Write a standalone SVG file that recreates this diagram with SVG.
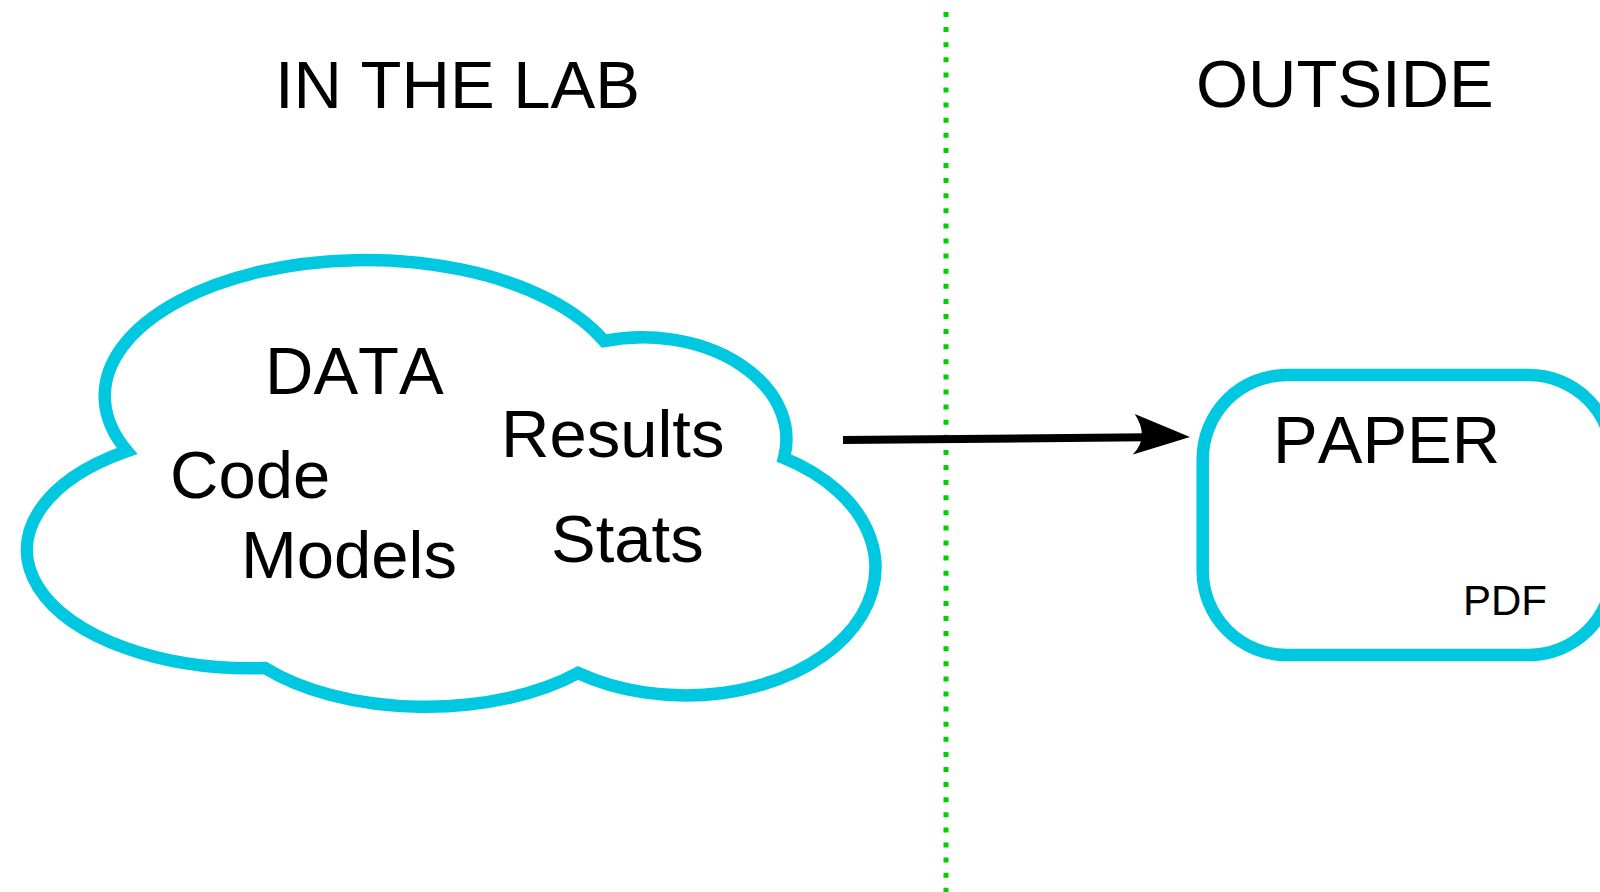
<svg xmlns="http://www.w3.org/2000/svg" width="1600" height="892" viewBox="0 0 1600 892">
  <style>
    .label { font-family: "Liberation Sans", Arial, Helvetica, sans-serif; fill: #000; font-kerning: none; }
    .big { font-size: 67px; }
    .small { font-size: 42px; }
    .shape { fill: #fff; stroke: #00c8e0; stroke-width: 12.5; stroke-linejoin: miter; stroke-miterlimit: 20; }
    .divider { stroke: #00d000; stroke-width: 5; stroke-dasharray: 5 10.1; fill: none; }
    .link { stroke: #000; stroke-width: 8; fill: none; }
  </style>
  <defs>
    <!-- concave-backed arrowhead; the line ends just inside its notch -->
    <marker id="head" markerUnits="userSpaceOnUse" viewBox="0 0 60 44" refX="13" refY="23.4" markerWidth="60" markerHeight="44" orient="auto">
      <path d="M57,23.4 L2,0 Q17,23.7 -0.7,40.7 Z" fill="#000"/>
    </marker>
  </defs>

  <rect width="1600" height="892" fill="#fff"/>

  <!-- section divider -->
  <g id="divider">
    <line class="divider" x1="946" y1="12" x2="946" y2="892"/>
  </g>

  <!-- section headings -->
  <g id="heading-lab">
    <text class="label big" x="275" y="108">IN THE LAB</text>
  </g>
  <g id="heading-outside">
    <text class="label big" x="1196" y="107">OUTSIDE</text>
  </g>

  <!-- cloud of lab material -->
  <g id="lab-cloud">
    <path class="shape" d="M127,451
      A259,135 0 0 1 604,341
      A144,102 0 0 1 784,458
      A190,128 0 1 1 578,673
      A211,110 0 0 1 265,668
      A224,118.5 0 0 1 127,451 Z"/>
    <text class="label big" x="265" y="394">DATA</text>
    <text class="label big" x="170" y="498">Code</text>
    <text class="label big" x="241" y="578">Models</text>
    <text class="label big" x="501" y="457">Results</text>
    <text class="label big" x="551" y="562">Stats</text>
  </g>

  <!-- published paper -->
  <g id="paper">
    <rect class="shape" x="1202.7" y="375" width="410" height="280" rx="84" ry="84"/>
    <text class="label big" x="1273" y="463">PAPER</text>
    <text class="label small" x="1463" y="615">PDF</text>
  </g>

  <!-- connectors -->
  <g id="connectors">
    <path class="link" d="M843,440 L1146,437.3" marker-end="url(#head)"/>
  </g>
</svg>
